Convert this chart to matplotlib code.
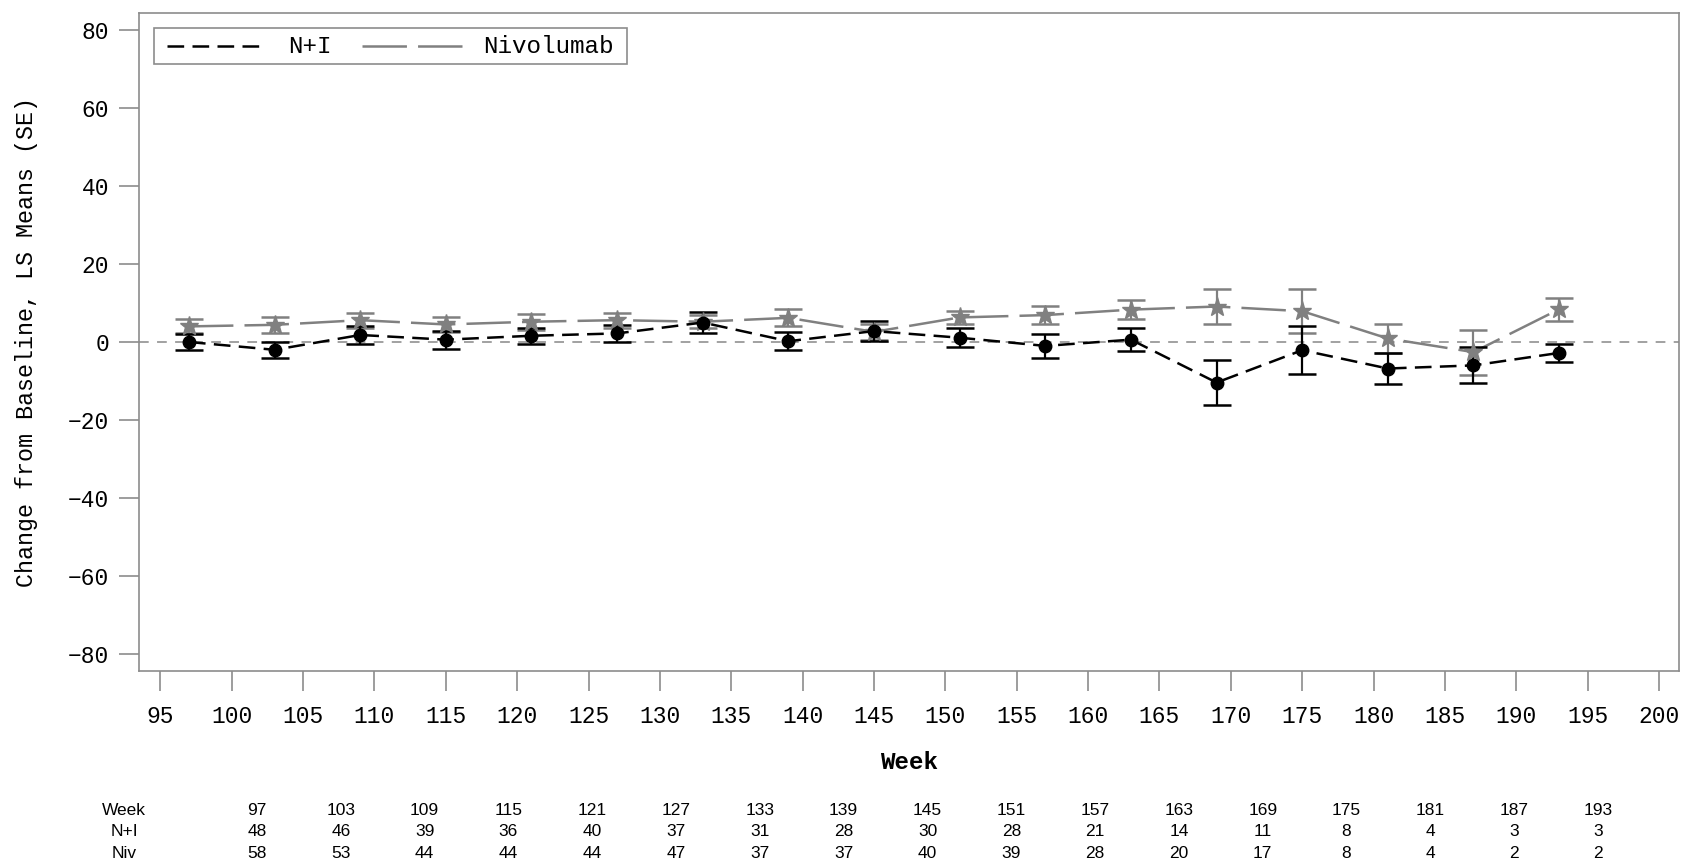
import matplotlib
matplotlib.use("Agg")
import matplotlib.pyplot as plt
from matplotlib.lines import Line2D
from matplotlib.patches import Rectangle
import numpy as np

# Visit weeks and least-squares mean change from baseline (with SE)
weeks = [97, 103, 109, 115, 121, 127, 133, 139, 145, 151, 157, 163, 169, 175, 181, 187, 193]

ni_mean = [0.0, -2.0, 1.8, 0.6, 1.6, 2.2, 5.0, 0.2, 2.8, 1.1, -1.0, 0.6, -10.4, -2.1, -6.8, -6.0, -2.8]
ni_se = [2.0, 2.1, 2.2, 2.3, 2.0, 2.1, 2.7, 2.3, 2.6, 2.4, 3.0, 3.0, 5.8, 6.1, 3.9, 4.6, 2.4]

niv_mean = [4.0, 4.4, 5.6, 4.5, 5.2, 5.6, 5.2, 6.2, 2.6, 6.3, 6.9, 8.3, 9.1, 7.9, 0.9, -2.6, 8.4]
niv_se = [1.8, 2.1, 1.9, 1.9, 2.0, 1.9, 1.6, 2.2, 2.0, 1.7, 2.3, 2.5, 4.6, 5.7, 3.6, 5.8, 2.9]

# Number of subjects at each visit
n_ni = [48, 46, 39, 36, 40, 37, 31, 28, 30, 28, 21, 14, 11, 8, 4, 3, 3]
n_niv = [58, 53, 44, 44, 44, 47, 37, 37, 40, 39, 28, 20, 17, 8, 4, 2, 2]

series_names = ['N+I', 'Nivolumab']
xticks = list(range(95, 201, 5))
yticks = list(range(-80, 81, 20))

plt.rcParams['lines.scale_dashes'] = False
mono = ['Liberation Mono', 'DejaVu Sans Mono']
narrow = ['Liberation Sans Narrow', 'Liberation Sans', 'DejaVu Sans']
FS = 16.5

W, H = 1686, 863


def fx(px):
    return px / W


def fy(py):
    return 1 - py / H


fig = plt.figure(figsize=(W / 100, H / 100), dpi=100)
ax_l, ax_r, ax_t, ax_b = 139, 1679, 13.3, 670.7
ax = fig.add_axes([fx(ax_l), fy(ax_b), (ax_r - ax_l) / W, (ax_b - ax_t) / H])

gray = '#808080'
frame = '#8c8c8c'
ni_dash = (12, 6)
niv_dash = (32, 8)

ax.axhline(0, color='#9a9a9a', lw=1.3, dashes=(7, 6), zorder=1)

ax.errorbar(weeks, ni_mean, yerr=ni_se, fmt='none', ecolor='black',
            elinewidth=1.6, capsize=10, capthick=1.8, zorder=3)
ax.errorbar(weeks, niv_mean, yerr=niv_se, fmt='none', ecolor=gray,
            elinewidth=1.6, capsize=10, capthick=1.8, zorder=2)

ax.plot(weeks, ni_mean, color='black', lw=1.8, dashes=ni_dash, zorder=4)
ax.plot(weeks, niv_mean, color=gray, lw=1.8, dashes=niv_dash, zorder=2)
ax.plot(weeks, ni_mean, 'o', color='black', ms=9, zorder=5)
ax.plot(weeks, niv_mean, '*', color=gray, ms=14, zorder=3)

ax.set_xlim(93.5, 201.4)
ax.set_ylim(-84.3, 84.3)
ax.set_xticks(xticks)
ax.set_yticks(yticks)
ax.set_xticklabels([str(v) for v in xticks], family=mono, fontsize=FS)
ax.set_yticklabels([str(v).replace('-', '\u2212') if v < 0 else str(v) for v in yticks],
                   family=mono, fontsize=FS)
ax.tick_params(direction='out', length=14.5, width=1.2, color=frame)
ax.tick_params(axis='x', pad=10)
ax.tick_params(axis='y', pad=7)
for s in ax.spines.values():
    s.set_color(frame)
    s.set_linewidth(1.2)

ax.set_ylabel('Change from Baseline, LS Means (SE)', family=mono, fontsize=16.8, va='center')
ax.yaxis.set_label_coords((27 - ax_l) / (ax_r - ax_l), 0.5)
fig.text(fx((ax_l + ax_r) / 2), fy(762), 'Week', family=mono, fontsize=17.5,
         fontweight='bold', ha='center', va='center')

# Legend box laid out in figure pixels
fig.add_artist(Rectangle((fx(153.5), fy(64.5)), (626.5 - 153.5) / W, (64.5 - 28) / H,
                         transform=fig.transFigure, fill=True, facecolor='white',
                         edgecolor=frame, lw=1.2, zorder=6))
leg_y = 46.5
fig.add_artist(Line2D([fx(166.7), fx(260)], [fy(leg_y), fy(leg_y)], transform=fig.transFigure,
                      color='black', lw=1.8, dashes=ni_dash, zorder=7))
fig.add_artist(Line2D([fx(361.7), fx(461.7)], [fy(leg_y), fy(leg_y)], transform=fig.transFigure,
                      color=gray, lw=1.8, dashes=niv_dash, zorder=7))
fig.text(fx(288), fy(leg_y), series_names[0], family=mono, fontsize=17.5,
         ha='left', va='center', zorder=8)
fig.text(fx(483), fy(leg_y), series_names[1], family=mono, fontsize=17.5,
         ha='left', va='center', zorder=8)

# At-risk table below the axis
row_y = [810, 831, 853]
x0, x1 = 257, 1598
cols = np.linspace(x0, x1, len(weeks))
rows = [('Week', weeks), ('N+I', n_ni), ('Niv', n_niv)]
for (label, vals), yy in zip(rows, row_y):
    fig.text(fx(124), fy(yy), label, family=narrow, fontsize=12.5, ha='center', va='center')
    for cx, v in zip(cols, vals):
        fig.text(fx(cx), fy(yy), str(v), family=narrow, fontsize=12.5, ha='center', va='center')

fig.savefig('out.png', dpi=100)
